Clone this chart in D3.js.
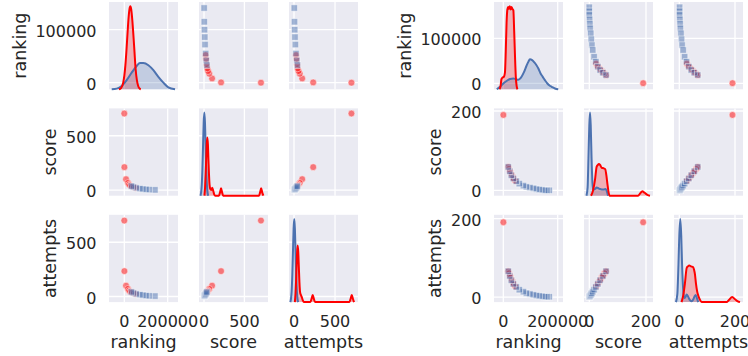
<!DOCTYPE html>
<html>
<head>
<meta charset="utf-8">
<script src="https://cdn.jsdelivr.net/npm/d3@7"></script>
<style>
  body { margin: 0; background: #fff; }
  text { font-family: "DejaVu Sans", sans-serif; fill: #262626; }
</style>
</head>
<body>
<svg id="chart"></svg>
<script>
var variables = ["ranking", "score", "attempts"];

// left grid: points per group
var leftRedRanking = [0, 500, 8000, 17000, 22000, 27000, 35000, 45000, 52000];
var leftRedScore = [705, 211, 100, 65, 50, 41, 32, 25, 21];
var leftRedAttempts = [700, 234, 100, 70, 55, 45, 38, 30, 25];
var leftBlueRanking = [141000, 115000, 100000, 86000, 72000, 55000, 42000, 33000];
var leftBlueScore = [2, 4, 6, 9, 13, 20, 28, 36];
var leftBlueAttempts = [4, 6, 8, 12, 17, 24, 33, 42];

// right grid: points per group
var rightRedRanking = [300, 18000, 21000, 24000, 27000, 31000, 35000, 39000, 44000];
var rightRedScore = [190, 59, 54, 49, 44, 39, 33, 28, 24];
var rightRedAttempts = [191, 66, 61, 55, 50, 44, 38, 32, 27];
var rightBlueRanking = [169000, 160000, 152000, 142000, 132000, 122000, 111000, 98000,
  85000, 74000, 59000, 48000, 37000, 29600, 23600, 18400];
var rightBlueScore = [0, 0, 0, 1, 2, 3, 5, 7, 9, 12, 17, 23, 30, 38, 48, 59];
var rightBlueAttempts = [1, 1, 1, 2, 3, 4, 6, 8, 10, 14, 19, 26, 34, 43, 54, 66];

// diagonal density curves (tallest peak = 1)
var leftKdeRankingRed = [[-25000,0],[-15000,0.015],[-5000,0.08],[0,0.16],[5000,0.29],[10000,0.47],
  [15000,0.68],[20000,0.87],[25000,0.98],[28000,1],[32000,0.96],[37000,0.83],[42000,0.65],
  [47000,0.45],[52000,0.25],[58000,0.11],[64000,0.04],[70000,0.01],[76000,0]];
var leftKdeRankingBlue = [[-58000,0],[-35000,0.008],[-12000,0.04],[11000,0.11],[34000,0.2],
  [57000,0.28],[72000,0.317],[88000,0.317],[111000,0.29],[134000,0.23],[157000,0.15],
  [180000,0.08],[203000,0.024],[234000,0]];
var leftKdeScoreRed = [[5,0],[13,0.1],[20,0.25],[27,0.43],[34,0.62],[41,0.7],[48,0.62],[55,0.43],
  [62,0.25],[69,0.13],[78,0.08],[90,0.07],[102,0.095],[114,0.06],[126,0.015],[140,0],[185,0],
  [198,0.04],[211,0.09],[224,0.04],[237,0],[681,0],[694,0.04],[707,0.09],[720,0.04],[735,0]];
var leftKdeScoreBlue = [[-44,0],[-36,0.04],[-28,0.13],[-20,0.32],[-12,0.6],[-4,0.88],[4,1],[12,0.88],
  [20,0.6],[28,0.32],[36,0.13],[44,0.04],[52,0]];
var leftKdeAttemptsRed = [[10,0],[18,0.1],[25,0.25],[32,0.45],[38,0.6],[45,0.68],[52,0.6],[59,0.42],
  [66,0.24],[74,0.12],[84,0.085],[95,0.06],[108,0.02],[120,0],[200,0],[214,0.04],[228,0.085],
  [242,0.04],[256,0],[676,0],[690,0.04],[704,0.085],[718,0.04],[732,0]];
var leftKdeAttemptsBlue = [[-45,0],[-37,0.04],[-29,0.13],[-21,0.32],[-13,0.6],[-5,0.88],[3,1],[11,0.88],
  [19,0.6],[27,0.32],[35,0.13],[43,0.04],[51,0]];

var rightKdeRankingRed = [[-14000,0],[-10000,0.04],[-7000,0.12],[-3000,0.14],[2000,0.15],[6000,0.2],
  [9000,0.45],[12000,0.8],[15000,0.96],[18000,0.99],[21000,0.97],[24000,1],[27000,0.96],
  [30000,0.99],[33000,0.97],[37000,0.95],[40000,0.7],[43000,0.4],[46000,0.15],[49000,0.04],[52000,0]];
var rightKdeRankingBlue = [[-24000,0],[-12000,0.03],[0,0.07],[12000,0.1],[25000,0.125],[37000,0.13],
  [47000,0.12],[55000,0.115],[65000,0.14],[75000,0.2],[85000,0.28],[92000,0.33],[98000,0.36],
  [106000,0.35],[115000,0.32],[122000,0.29],[129000,0.25],[137000,0.19],[145000,0.15],
  [153000,0.11],[162000,0.07],[170000,0.045],[178000,0.03],[190000,0.01],[202000,0]];
var rightKdeScoreRed = [[6,0],[13,0.06],[20,0.19],[26,0.35],[30,0.37],[34,0.38],[38,0.37],[44,0.335],
  [50,0.33],[56,0.32],[60,0.25],[64,0.14],[68,0.04],[72,0],[172,0],[180,0.03],[187,0.053],
  [195,0.035],[205,0.01],[214,0]];
var rightKdeScoreBlue = [[-10,0],[-6,0.1],[-3,0.45],[0,0.85],[2.5,1],[5,0.85],[8,0.45],[11,0.16],
  [14,0.07],[20,0.08],[26,0.1],[32,0.09],[38,0.08],[44,0.075],[50,0.075],[58,0.08],[62,0.05],[66,0]];
var rightKdeAttemptsRed = [[8,0],[14,0.08],[20,0.22],[26.5,0.41],[31,0.43],[36,0.44],[42,0.43],
  [50,0.42],[53,0.39],[56,0.34],[60,0.22],[64,0.13],[68,0.08],[74,0.03],[80,0],[170,0],
  [178,0.025],[190,0.06],[200,0.035],[210,0.01],[218,0]];
var rightKdeAttemptsBlue = [[-12,0],[-7,0.1],[-3,0.45],[0,0.8],[3.6,1],[7,0.8],[10,0.45],[14,0.15],
  [18,0.05],[22,0.06],[26.5,0.09],[31,0.07],[37,0.03],[44,0.01],[50,0.03],[55,0.07],[59,0.085],
  [63,0.05],[68,0]];

// axis limits and ticks, per variable (ranking, score, attempts)
var leftXLimits = [[-70500, 247500], [-62, 792], [-61, 780]];
var leftYLimits = [[-12500, 152300], [-52, 752], [-51.5, 753]];
var leftXTicks = [[0, 200000], [0, 500], [0, 500]];
var leftYTicks = [[0, 100000], [0, 500], [0, 500]];
var rightXLimits = [[-34200, 219500], [-18.7, 224.7], [-19, 228.7]];
var rightYLimits = [[-13300, 180700], [-13.5, 206.5], [-12.7, 210]];
var rightXTicks = [[0, 200000], [0, 200], [0, 200]];
var rightYTicks = [[0, 100000], [0, 200], [0, 200]];

var chartW = 748, chartH = 356;
var panelW = 69, panelH = 87.3, colStep = 90, rowStep = 106.4, gridTop = 2;
var red = "#ff0000", blue = "#4c72b0", bg = "#eaeaf2";

function toPoints(r, s, a) {
  return r.map(function(d, i) { return { ranking: d, score: s[i], attempts: a[i] }; });
}

var grids = [
  {
    left: 109,
    red: toPoints(leftRedRanking, leftRedScore, leftRedAttempts),
    blue: toPoints(leftBlueRanking, leftBlueScore, leftBlueAttempts),
    kde: [
      { red: leftKdeRankingRed, blue: leftKdeRankingBlue },
      { red: leftKdeScoreRed, blue: leftKdeScoreBlue },
      { red: leftKdeAttemptsRed, blue: leftKdeAttemptsBlue }
    ],
    xLimits: leftXLimits, yLimits: leftYLimits, xTicks: leftXTicks, yTicks: leftYTicks
  },
  {
    left: 494,
    red: toPoints(rightRedRanking, rightRedScore, rightRedAttempts),
    blue: toPoints(rightBlueRanking, rightBlueScore, rightBlueAttempts),
    kde: [
      { red: rightKdeRankingRed, blue: rightKdeRankingBlue },
      { red: rightKdeScoreRed, blue: rightKdeScoreBlue },
      { red: rightKdeAttemptsRed, blue: rightKdeAttemptsBlue }
    ],
    xLimits: rightXLimits, yLimits: rightYLimits, xTicks: rightXTicks, yTicks: rightYTicks
  }
];

var svg = d3.select("#chart").attr("width", chartW).attr("height", chartH);
svg.append("rect").attr("width", chartW).attr("height", chartH).attr("fill", "#fff");

grids.forEach(function(grid) {
  var xScales = variables.map(function(v, j) {
    var x0 = grid.left + j * colStep;
    return d3.scaleLinear().domain(grid.xLimits[j]).range([x0, x0 + panelW]);
  });
  var yScales = variables.map(function(v, i) {
    var y0 = gridTop + i * rowStep;
    return d3.scaleLinear().domain(grid.yLimits[i]).range([y0 + panelH, y0]);
  });

  variables.forEach(function(yv, i) {
    variables.forEach(function(xv, j) {
      var x = xScales[j], y = yScales[i];
      var g = svg.append("g");
      g.append("rect")
        .attr("x", x.range()[0]).attr("y", y.range()[1])
        .attr("width", panelW).attr("height", panelH)
        .attr("fill", bg);

      // grid lines
      g.selectAll(".vg").data(grid.xTicks[j]).enter().append("line")
        .attr("x1", function(d) { return x(d); }).attr("x2", function(d) { return x(d); })
        .attr("y1", y.range()[1]).attr("y2", y.range()[0])
        .attr("stroke", "#fff").attr("stroke-width", 1.3);
      g.selectAll(".hg").data(grid.yTicks[i]).enter().append("line")
        .attr("y1", function(d) { return y(d); }).attr("y2", function(d) { return y(d); })
        .attr("x1", x.range()[0]).attr("x2", x.range()[1])
        .attr("stroke", "#fff").attr("stroke-width", 1.3);

      if (i === j) {
        var dy = d3.scaleLinear().domain([0, 1.05]).range(y.range());
        var area = d3.area().curve(d3.curveMonotoneX)
          .x(function(d) { return x(d[0]); }).y0(dy(0)).y1(function(d) { return dy(d[1]); });
        var line = d3.line().curve(d3.curveMonotoneX)
          .x(function(d) { return x(d[0]); }).y(function(d) { return dy(d[1]); });
        var curves = grid.kde[i];
        [["red", red], ["blue", blue]].forEach(function(c) {
          g.append("path").attr("d", area(curves[c[0]]))
            .attr("fill", c[1]).attr("fill-opacity", 0.25);
        });
        [["blue", blue], ["red", red]].forEach(function(c) {
          g.append("path").attr("d", line(curves[c[0]]))
            .attr("fill", "none").attr("stroke", c[1]).attr("stroke-width", 2)
            .attr("stroke-linejoin", "round");
        });
      } else {
        g.selectAll(".pr").data(grid.red).enter().append("circle")
          .attr("cx", function(d) { return x(d[xv]); })
          .attr("cy", function(d) { return y(d[yv]); })
          .attr("r", 3.4)
          .attr("fill", red).attr("fill-opacity", 0.5)
          .attr("stroke", "#fff").attr("stroke-opacity", 0.5).attr("stroke-width", 1);
        g.selectAll(".pb").data(grid.blue).enter().append("rect")
          .attr("x", function(d) { return x(d[xv]) - 3.2; })
          .attr("y", function(d) { return y(d[yv]) - 3.2; })
          .attr("width", 6.4).attr("height", 6.4)
          .attr("fill", blue).attr("fill-opacity", 0.5)
          .attr("stroke", "#fff").attr("stroke-opacity", 0.5).attr("stroke-width", 1);
      }
    });

    // y tick labels and y label on the first column
    var y = yScales[i];
    var tickLeft = [];
    svg.selectAll(null).data(grid.yTicks[i]).enter().append("text")
      .attr("x", grid.left - 12.5)
      .attr("y", function(d) { return y(d) + 7; })
      .attr("text-anchor", "end")
      .style("font-size", "16px")
      .text(function(d) { return d; })
      .each(function() { tickLeft.push(this.getBBox().x); });
    var labelX = d3.min(tickLeft) - 9.5;
    var labelY = gridTop + i * rowStep + panelH / 2;
    svg.append("text")
      .attr("transform", "translate(" + labelX + "," + labelY + ") rotate(-90)")
      .attr("text-anchor", "middle")
      .style("font-size", "17.5px")
      .text(yv);
  });

  // x tick labels and x labels on the bottom row
  var bottom = gridTop + 2 * rowStep + panelH;
  variables.forEach(function(xv, j) {
    var x = xScales[j];
    svg.selectAll(null).data(grid.xTicks[j]).enter().append("text")
      .attr("x", function(d) { return x(d); })
      .attr("y", bottom + 24.4)
      .attr("text-anchor", "middle")
      .style("font-size", "16px")
      .text(function(d) { return d; });
    svg.append("text")
      .attr("x", x.range()[0] + panelW / 2)
      .attr("y", bottom + 46)
      .attr("text-anchor", "middle")
      .style("font-size", "17.5px")
      .text(xv);
  });
});
</script>
</body>
</html>
